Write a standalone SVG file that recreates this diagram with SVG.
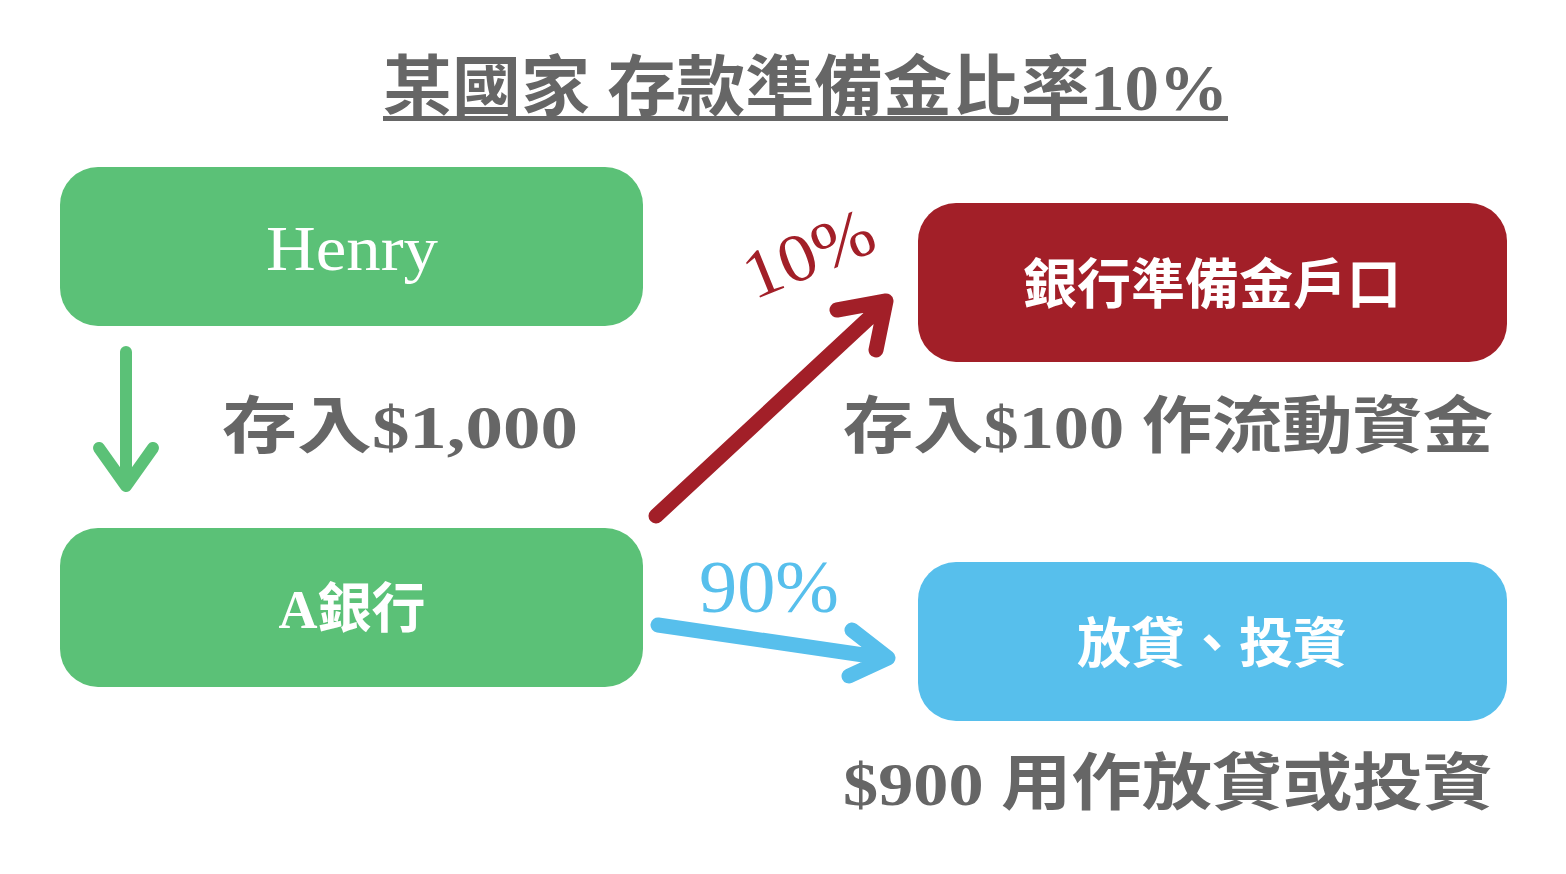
<svg xmlns="http://www.w3.org/2000/svg" width="1566" height="874" viewBox="0 0 1566 874">
<defs>
<style>
.t{font-family:"Liberation Serif","Noto Sans CJK TC",serif;}
.dark{fill:#666666;font-weight:bold;}
.white{fill:#ffffff;font-weight:bold;text-anchor:middle;}
.ln{fill:none;stroke-linecap:round;stroke-linejoin:round;}
</style>
</defs>
<rect width="1566" height="874" fill="#ffffff"/>
<g id="title">
<text class="t dark" x="383" y="110" font-size="66" textLength="845" lengthAdjust="spacingAndGlyphs">某國家 存款準備金比率10%</text>
<rect x="383" y="116" width="845" height="5" fill="#666666"/>
</g>
<g id="henry">
<rect x="60" y="167" width="583" height="159" rx="38" fill="#5BC177"/>
<text class="t white" x="352" y="270" font-size="64" style="font-weight:normal" textLength="172" lengthAdjust="spacingAndGlyphs">Henry</text>
</g>
<g id="abank">
<rect x="60" y="528" width="583" height="159" rx="38" fill="#5BC177"/>
<text class="t white" x="352" y="628" font-size="54">A銀行</text>
</g>
<g id="reserve">
<rect x="918" y="203" width="589" height="159" rx="38" fill="#A21F28"/>
<text class="t white" x="1212" y="304" font-size="54">銀行準備金戶口</text>
</g>
<g id="loan">
<rect x="918" y="562" width="589" height="159" rx="38" fill="#57BFEC"/>
<text class="t white" x="1212" y="663" font-size="54">放貸、投資</text>
</g>
<g id="connectors">
<path class="ln" d="M126 352 V486 M99 448 L126 486 L153 448" stroke="#5BC177" stroke-width="12"/>
<path class="ln" d="M656 516 L882 306 M837 310 L886 301 L876 350" stroke="#A21F28" stroke-width="15"/>
<path class="ln" d="M658 625 L884 658 M852 630 L888 658 L849 676" stroke="#57BFEC" stroke-width="15"/>
</g>
<g id="labels">
<text class="t dark" x="222" y="448" font-size="62" textLength="356" lengthAdjust="spacingAndGlyphs">存入$1,000</text>
<text class="t dark" x="843" y="448" font-size="62" textLength="650" lengthAdjust="spacingAndGlyphs">存入$100 作流動資金</text>
<text class="t dark" x="843" y="805" font-size="62" textLength="650" lengthAdjust="spacingAndGlyphs">$900 用作放貸或投資</text>
<text class="t" x="0" y="0" font-size="68" fill="#A21F28" textLength="136" lengthAdjust="spacingAndGlyphs" transform="translate(754 300) rotate(-22)">10%</text>
<text class="t" x="699" y="612" font-size="74" fill="#57BFEC" textLength="140" lengthAdjust="spacingAndGlyphs">90%</text>
</g>
</svg>
